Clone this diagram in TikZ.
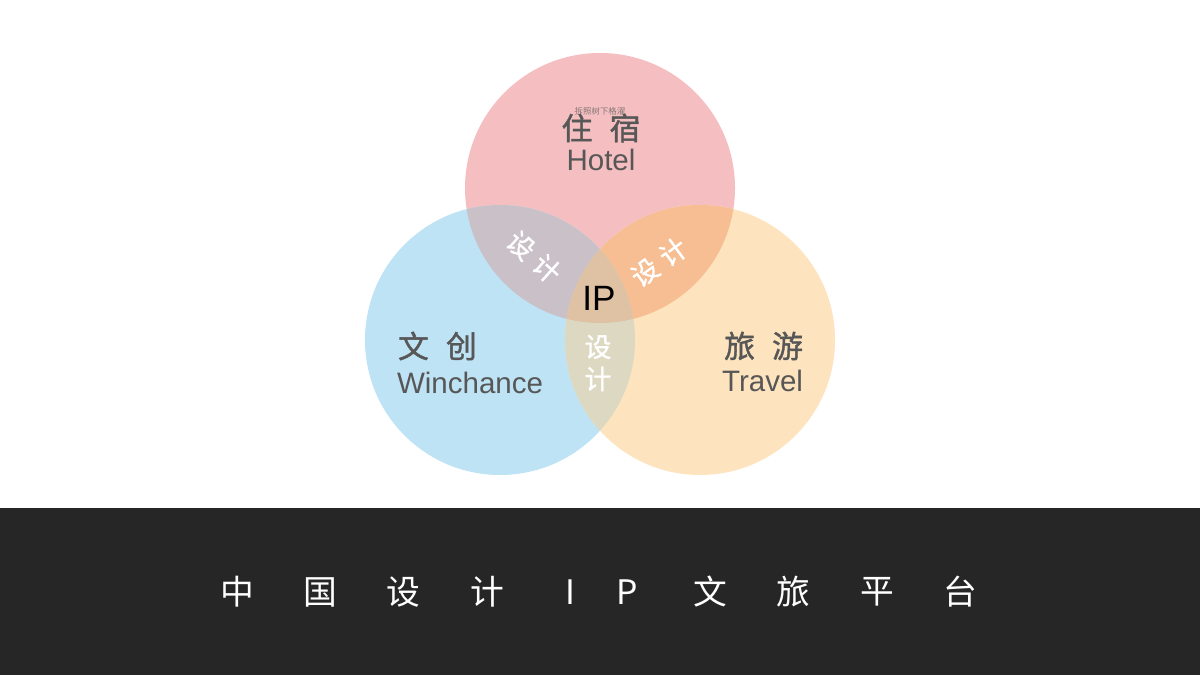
\documentclass[tikz,border=0pt]{standalone}
\usepackage{fontspec}
\setmainfont{Liberation Sans}
\newfontfamily\cjk{Noto Sans CJK SC}
\newfontfamily\cjkb[FakeBold=1.2]{Noto Sans CJK SC}
\usepackage{tikz}
\definecolor{pinkc}{HTML}{F5BFC1}
\definecolor{bluec}{HTML}{BEE3F4}
\definecolor{peachc}{HTML}{FDE4BE}
\definecolor{tlc}{HTML}{CAC0C8}
\definecolor{trc}{HTML}{F6BE92}
\definecolor{btc}{HTML}{DCD8C1}
\definecolor{midc}{HTML}{DFC1A4}
\definecolor{bandc}{HTML}{262626}
\definecolor{textc}{HTML}{575757}

\begin{document}
\begin{tikzpicture}[
            x=0.025cm, y=0.025cm,
            every node/.style={inner sep=0pt, outer sep=0pt},
            head/.style={font=\cjkb\fontsize{22}{24}\selectfont, text=textc},
            eng/.style={font=\fontsize{21}{24}\selectfont, text=textc},
            sjmark/.style={font=\cjkb\fontsize{19}{21}\selectfont, text=white},
            title/.style={font=\cjk\fontsize{24}{26}\selectfont, text=white}
            ]
            \useasboundingbox (0,0) rectangle (1200,675);
            \fill[white] (0,0) rectangle (1200,675);
            % bottom band
            \fill[bandc] (0,0) rectangle (1200,167);
            % circles
            \coordinate (ct) at (600,487);
            \coordinate (cl) at (500,335);
            \coordinate (cr) at (700,335);
            \fill[pinkc] (ct) circle (135);
            \fill[bluec] (cl) circle (135);
            \fill[peachc] (cr) circle (135);
            % overlaps
            \begin{scope}
                \clip (ct) circle (135);
                \fill[tlc] (cl) circle (135);
                \fill[trc] (cr) circle (135);
            \end{scope}
            \begin{scope}
                \clip (cl) circle (135);
                \fill[btc] (cr) circle (135);
                \clip (cr) circle (135);
                \fill[midc] (ct) circle (135);
            \end{scope}
            % labels
            \node[font=\cjk\fontsize{6}{6}\selectfont, text=textc!70!pinkc] (tiny) at (600,564) {拆照树下格濯};
            \node[head] (zhusu) at (601,547) {住\hspace{0.55em}宿};
            \node[eng] (hotel) at (601,515) {Hotel};
            \node[head, anchor=west] (wenchuang) at (398,329) {文\hspace{0.55em}创};
            \node[eng, anchor=west] (winchance) at (397,292) {Winchance};
            \node[head, anchor=east] (lvyou) at (803,329) {旅\hspace{0.55em}游};
            \node[eng, anchor=east] (travel) at (803,294) {Travel};
            \node[font=\fontsize{25}{27}\selectfont] (ip) at (599,377) {IP};
            \node[sjmark, rotate=-42] (sjl) at (534,418) {设\hspace{0.3em}计};
            \node[sjmark, rotate=36] (sjr) at (659,413) {设\hspace{0.3em}计};
            \node[sjmark] (sjb1) at (598,328) {设};
            \node[sjmark] (sjb2) at (598,296) {计};
            % title
            \foreach \c/\x [count=\i] in {中/237, 国/320, 设/403, 计/487, I/570, P/627, 文/710, 旅/793, 平/877, 台/960}
                \node[title] (t\i) at (\x,83) {\c};
        \end{tikzpicture}
\end{document}
